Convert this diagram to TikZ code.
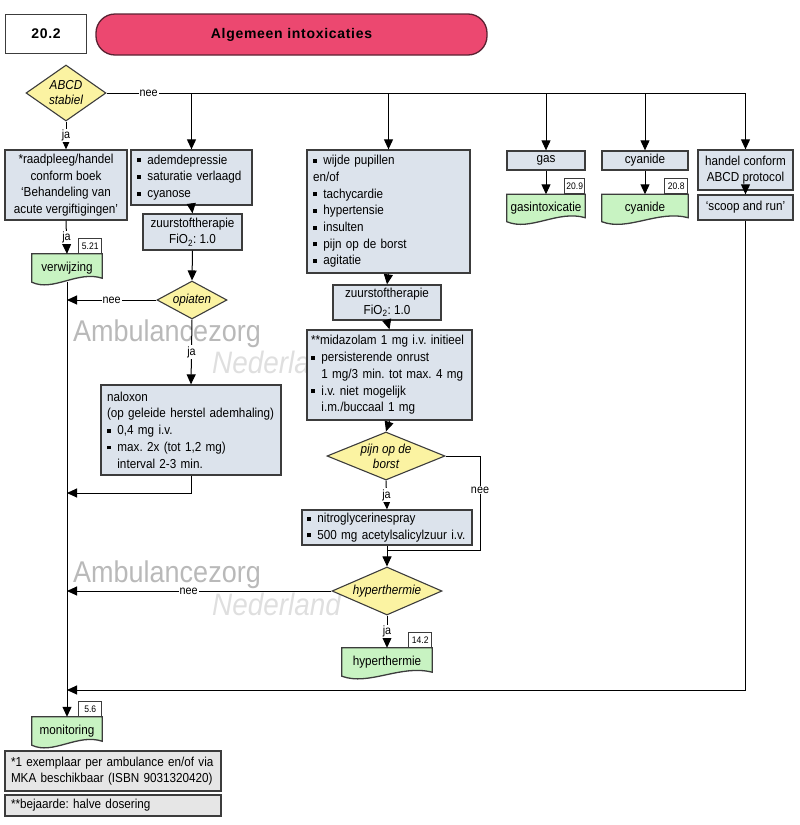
\documentclass[tikz,border=0pt]{standalone}
\usepackage{fontspec}
\setmainfont{Liberation Sans}[FakeStretch=0.9]
\newfontfamily\headfont{Liberation Sans}[LetterSpace=5]
\usetikzlibrary{shapes.geometric,arrows.meta,backgrounds,calc}
\frenchspacing

\definecolor{boxfill}{HTML}{DCE3EC}
\definecolor{docfill}{HTML}{C8F3C2}
\definecolor{ynfill}{HTML}{FBF3A2}
\definecolor{notefill}{HTML}{E6E6E6}
\definecolor{titlefill}{HTML}{EC4870}
\definecolor{titleedge}{HTML}{5A2232}
\definecolor{edge}{HTML}{3C3C3C}

% bullet and hanging indent for the lists
\newcommand{\bul}{\makebox[0.8em][l]{\rule[0.28ex]{0.3em}{0.3em}}}
\newcommand{\ind}{\hspace*{0.8em}}

\tikzset{
  box/.style={draw=edge, fill=boxfill, line width=1.3pt, inner sep=2pt, align=center, font=\fontsize{13}{16.7}\selectfont},
  listbox/.style={box, align=left, inner xsep=6pt},
  yn/.style={diamond, draw=edge, fill=ynfill, line width=1.1pt, inner sep=0pt, align=center, font=\fontsize{13}{15}\selectfont\itshape},
  doc/.style={inner sep=0pt, align=center, font=\fontsize{13}{16}\selectfont},
  docline/.style={draw=edge, fill=docfill, line width=1.3pt},
  refbox/.style={draw=edge, fill=white, line width=0.9pt, inner sep=1pt, minimum width=23pt, minimum height=15pt, font=\fontsize{9.5}{10}\selectfont, anchor=south east},
  note/.style={box, fill=notefill, align=left, inner xsep=6pt},
  wm/.style={inner sep=0pt, anchor=base west, text=gray!55, font=\fontsize{30}{30}\selectfont},
  wmsub/.style={inner sep=0pt, anchor=base west, text=gray!25, font=\fontsize{31}{31}\selectfont\itshape},
  line/.style={black, line width=1pt},
  arr/.style={line, -{Triangle[length=10pt,width=9pt]}},
  lbl/.style={fill=white, inner sep=1pt, font=\fontsize{12}{14}\selectfont}
}

\begin{document}
\begin{tikzpicture}[x=1pt, y=-1pt]
  \useasboundingbox (0,0) rectangle (800,825);

  % watermark
  \begin{scope}[on background layer]
    \node[wm] (wma) at (73,341) {Ambulancezorg};
    \node[wmsub] (wmb) at (212,373) {Nederland};
    \node[wm] (wmc) at (73,582) {Ambulancezorg};
    \node[wmsub] (wmd) at (212,615) {Nederland};
  \end{scope}

  % header
  \node[draw=edge, line width=1.5pt, minimum width=81pt, minimum height=39pt, font=\headfont\bfseries\fontsize{14}{14}\selectfont] (num) at (46,34) {20.2};
  \node[draw=titleedge, fill=titlefill, line width=1.3pt, rounded corners=19pt, minimum width=391pt, minimum height=41pt, font=\headfont\bfseries\fontsize{14}{14}\selectfont] (title) at (291.5,34.5) {Algemeen intoxicaties};

  % left column
  \node[yn, minimum width=80pt, minimum height=56pt, aspect=1.5] (abcd) at (66,93) {ABCD\\stabiel};
  \node[box, minimum width=122pt, minimum height=70pt] (raad) at (66,185) {*raadpleeg/handel\\conform boek\\‘Behandeling van\\acute vergiftigingen’};
  \node[doc, minimum width=70pt, minimum height=28pt] (verw) at (67,268) {verwijzing};
  \node[refbox] (r521) at (verw.north east) {5.21};

  % ademdepressie column
  \node[listbox, text width=109pt, minimum height=55pt] (adem) at (191.5,177.5) {\bul ademdepressie\\\bul saturatie verlaagd\\\bul cyanose};
  \node[box, minimum width=99pt, minimum height=36pt] (zuur1) at (192.5,232) {zuurstoftherapie\\FiO\textsubscript{2}: 1.0};
  \node[yn, minimum width=70pt, minimum height=38pt, aspect=1.8] (opiaten) at (192,300) {opiaten};
  \node[listbox, text width=168pt, minimum height=90pt] (nalox) at (191,430) {naloxon\\(op geleide herstel ademhaling)\\\bul 0,4 mg i.v.\\\bul max. 2x (tot 1,2 mg)\\\ind interval 2-3 min.};

  % pupillen column
  \node[listbox, text width=151pt, minimum height=123pt] (pupil) at (388.5,211.5) {\bul wijde pupillen\\en/of\\\bul tachycardie\\\bul hypertensie\\\bul insulten\\\bul pijn op de borst\\\bul agitatie};
  \node[box, minimum width=108pt, minimum height=35pt] (zuur2) at (387,302.5) {zuurstoftherapie\\FiO\textsubscript{2}: 1.0};
  \node[listbox, inner xsep=4pt, text width=157pt, minimum height=90pt] (mida) at (389.5,375) {**midazolam 1 mg i.v. initieel\\\bul persisterende onrust\\\ind 1 mg/3 min. tot max. 4 mg\\\bul i.v. niet mogelijk\\\ind i.m./buccaal 1 mg};
  \node[yn, minimum width=118pt, minimum height=48pt, aspect=2.4] (pijn) at (386,456) {pijn op de\\borst};
  \node[listbox, inner xsep=5pt, text width=160pt, minimum height=35pt] (nitro) at (387,527.5) {\bul nitroglycerinespray\\\bul 500 mg acetylsalicylzuur i.v.};
  \node[yn, minimum width=110pt, minimum height=48pt, aspect=2.3] (hyper) at (387,591) {hyperthermie};
  \node[doc, minimum width=90pt, minimum height=28pt] (hyperd) at (387,662) {hyperthermie};
  \node[refbox] (r142) at (hyperd.north east) {14.2};

  % right columns
  \node[box, minimum width=78pt, minimum height=19pt, inner sep=0pt] (gas) at (546,160.5) {gas};
  \node[doc, minimum width=78pt, minimum height=27pt] (gasd) at (546,208) {gasintoxicatie};
  \node[refbox, minimum width=20pt] (r209) at (gasd.north east) {20.9};
  \node[box, minimum width=86pt, minimum height=19pt, inner sep=0pt] (cyan) at (645,160.5) {cyanide};
  \node[doc, minimum width=86pt, minimum height=27pt] (cyand) at (645,208) {cyanide};
  \node[refbox] (r208) at (cyand.north east) {20.8};
  \node[box, minimum width=95pt, minimum height=40pt] (abcdp) at (745.5,170) {handel conform\\ABCD protocol};
  \node[box, minimum width=95pt, minimum height=25pt] (scoop) at (745.5,207.5) {‘scoop and run’};

  % bottom
  \node[doc, minimum width=70pt, minimum height=28pt] (monit) at (67,731) {monitoring};
  \node[refbox] (r56) at (monit.north east) {5.6};
  \node[note, text width=204pt, minimum height=40pt] (note1) at (113,771) {*1 exemplaar per ambulance en/of via\\MKA beschikbaar (ISBN 9031320420)};
  \node[note, text width=204pt, minimum height=21pt] (note2) at (113,805.5) {**bejaarde: halve dosering};

  % document shapes
  \begin{scope}[on background layer]
    \foreach \d in {verw,gasd,cyand,hyperd,monit}
      \draw[docline] (\d.north west) -- (\d.north east) -- ([yshift=4pt]\d.south east)
        .. controls ($(\d.south west)!0.65!(\d.south east)+(0,12pt)$) and ($(\d.south west)!0.3!(\d.south east)+(0,-10pt)$) .. (\d.south west) -- cycle;
  \end{scope}

  % connectors
  \coordinate (nalj) at (67,493);
  \coordinate (scoopj) at (67,690);
  \coordinate (pijnr) at (480,550);

  \draw[line] (abcd.east) -- node[lbl, pos=0.066] {nee} (abcdp.north |- abcd.east);
  \foreach \n in {adem,pupil,gas,cyan,abcdp}
    \draw[arr] (\n.north |- abcd.east) -- (\n.north);
  \draw[arr] (abcd.south) -- node[lbl] {ja} (raad.north);
  \draw[arr] (raad.south) -- node[lbl] {ja} (verw.north);
  \draw[arr] (verw.south) -- (monit.north);

  \draw[arr] (adem.south) -- (zuur1.north);
  \draw[arr] (zuur1.south) -- (opiaten.north);
  \draw[arr] (opiaten.west) -- node[lbl] {nee} (opiaten.west -| verw.south);
  \draw[arr] (opiaten.south) -- node[lbl] {ja} (nalox.north);
  \draw[arr] (nalox.south) |- (nalj);

  \draw[arr] (pupil.south) -- (zuur2.north);
  \draw[arr] (zuur2.south) -- (mida.north);
  \draw[arr] (mida.south) -- (pijn.north);
  \draw[arr] (pijn.south) -- node[lbl] {ja} (nitro.north);
  \draw[line] (pijn.east) -| node[lbl, pos=0.68] {nee} (pijnr) -- (nitro.south |- pijnr);
  \draw[arr] (nitro.south) -- (hyper.north);
  \draw[arr] (hyper.west) -- node[lbl, pos=0.54] {nee} (hyper.west -| verw.south);
  \draw[arr] (hyper.south) -- node[lbl] {ja} (hyperd.north);

  \draw[arr] (gas.south) -- (gasd.north);
  \draw[arr] (cyan.south) -- (cyand.north);
  \draw[arr] (abcdp.south) -- (scoop.north);
  \draw[arr] (scoop.south) |- (scoopj);
\end{tikzpicture}
\end{document}
